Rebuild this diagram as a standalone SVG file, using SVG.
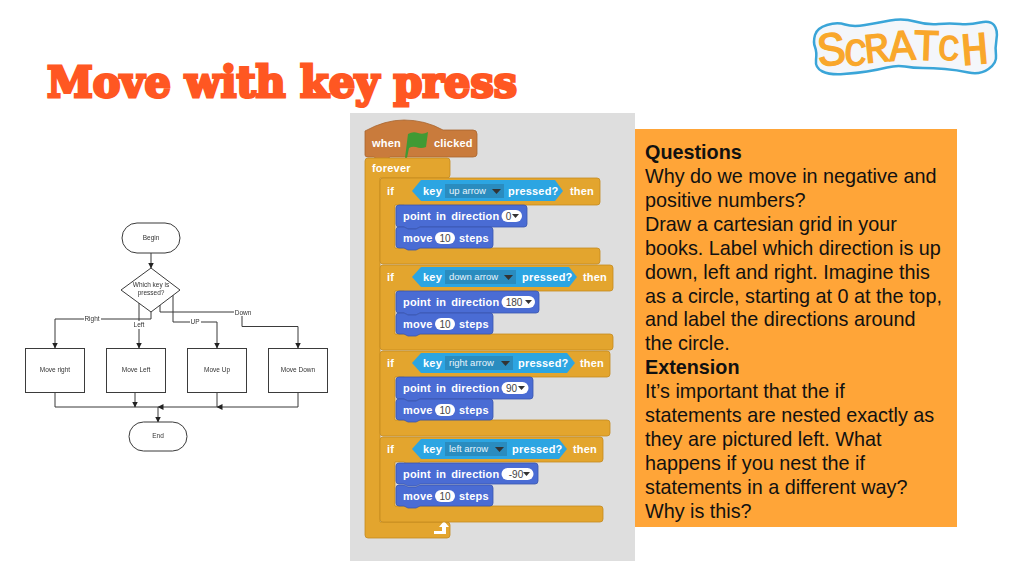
<svg xmlns="http://www.w3.org/2000/svg" width="1024" height="576" viewBox="0 0 1024 576">
<style>
text{font-family:"Liberation Sans",Arial,sans-serif}
.fn{fill:#fff;stroke:#3a3a3a;stroke-width:1}
.fl{font-size:6.5px;fill:#333;text-anchor:middle}
.cn path{fill:none;stroke:#3a3a3a;stroke-width:1}
.lb{fill:#fff}
.ctl{fill:#e3a52e;stroke:#c48a20;stroke-width:.8}
.mot{fill:#4a6cd4;stroke:#3a55ad;stroke-width:.8}
.sen{fill:#2ca5e2}
.dd{fill:#2a8cbf}
.w{font-size:11px;font-weight:700;fill:#fff;letter-spacing:.2px;word-spacing:1.8px}
.ddt{font-size:9.5px;fill:#e8f4fb}
.pill{fill:#fff}
.pt{font-size:10px;fill:#444;text-anchor:middle}
.tri{fill:#333}
.tq{font-size:19.800px;fill:#111}
.b{font-weight:700}
.lg{font-family:"Liberation Mono",monospace;font-weight:400;fill:#f9a72b;stroke:#f9a72b;stroke-width:1.300;text-anchor:middle}
</style>
<defs>
<marker id="ah" viewBox="0 0 6 6" refX="5.500" refY="3" markerWidth="6" markerHeight="6" orient="auto" markerUnits="userSpaceOnUse"><path d="M0 0L6 3L0 6Z" fill="#222"/></marker>
<filter id="soft" x="-5%" y="-5%" width="110%" height="110%"><feGaussianBlur stdDeviation=".3"/></filter>
</defs>
<rect width="1024" height="576" fill="#fff"/>
<text x="47" y="97" font-size="43" textLength="470" lengthAdjust="spacingAndGlyphs" style="font-family:'DejaVu Serif',serif;font-weight:700;fill:#ff5722;stroke:#ff5722;stroke-width:3;stroke-linejoin:miter">Move with key press</text>

<g id="logo">
<path d="M815 47Q813 42 815 35Q817 28 827 25Q837 22 845 24.500Q853 27 865 25Q877 23 890 20.500Q903 18 915 21.500Q927 25 938.500 24Q950 23 960 24Q970 25 980 22.500Q990 20 994 25Q998 30 996.500 39Q995 48 996 55.500Q997 63 988.500 69Q980 75 968.500 72.500Q957 70 945 69Q933 68 923 68Q913 68 905 66.500Q897 65 887 67.500Q877 70 867 71.500Q857 73 843.500 74Q830 75 822.500 71.500Q815 68 816 60Q817 52 815 47Z" fill="#f4f6fa" stroke="#3aa5d8" stroke-width="2.500"/>
<text class="lg" font-size="48" transform="translate(833 65) rotate(-6)">S</text>
<text class="lg" font-size="38" transform="translate(855 65) rotate(3)">C</text>
<text class="lg" font-size="42" transform="translate(878 62) rotate(-6)">R</text>
<text class="lg" font-size="44" transform="translate(903 60) rotate(-4)">A</text>
<text class="lg" font-size="44" transform="translate(926 60) rotate(2)">T</text>
<text class="lg" font-size="36" transform="translate(948 60) rotate(4)">C</text>
<text class="lg" font-size="46" transform="translate(976 64) rotate(-5)">H</text>
</g>

<g id="flowchart" filter="url(#soft)">
<g id="connectors" class="cn">
<path d="M151 253V268" marker-end="url(#ah)"/>
<path d="M151 312V319H55V348" marker-end="url(#ah)"/>
<path d="M139 303V348" marker-end="url(#ah)"/>
<path d="M173 295V322H217V348" marker-end="url(#ah)"/>
<path d="M160 305V312H242V326.500H298V348" marker-end="url(#ah)"/>
<path d="M55 392V407H158"/>
<path d="M135 392V407" marker-end="url(#ah)"/>
<path d="M217 392V407H158" marker-end="url(#ah)"/>
<path d="M298 392V407H217" marker-end="url(#ah)"/>
<path d="M158 407V422" marker-end="url(#ah)"/>
</g>
<g id="edge-labels">
<rect class="lb" x="84" y="315" width="17" height="8"/><text class="fl" x="92" y="320.500">Right</text>
<rect class="lb" x="133" y="321" width="12" height="8"/><text class="fl" x="139" y="327">Left</text>
<rect class="lb" x="190" y="318" width="11" height="8"/><text class="fl" x="195" y="323.500">UP</text>
<rect class="lb" x="234" y="308" width="18" height="8"/><text class="fl" x="243" y="314.500">Down</text>
</g>
<g id="begin"><rect class="fn" x="122" y="223" width="58" height="30" rx="15"/><text class="fl" x="151" y="240">Begin</text></g>
<g id="decision"><path class="fn" d="M151 268L180 290L151 312L121 290Z"/><text class="fl" x="151" y="287">Which key is</text><text class="fl" x="151" y="295">pressed?</text></g>
<g id="move-right"><rect class="fn" x="25.500" y="348.500" width="59" height="44"/><text class="fl" x="55" y="372">Move right</text></g>
<g id="move-left"><rect class="fn" x="106.500" y="348.500" width="59" height="44"/><text class="fl" x="136" y="372">Move Left</text></g>
<g id="move-up"><rect class="fn" x="187.500" y="348.500" width="59" height="44"/><text class="fl" x="217" y="372">Move Up</text></g>
<g id="move-down"><rect class="fn" x="268.500" y="348.500" width="59" height="44"/><text class="fl" x="298" y="372">Move Down</text></g>
<g id="end"><rect class="fn" x="129" y="422" width="58" height="29" rx="14.500"/><text class="fl" x="158" y="438">End</text></g>
</g>

<g id="scratch-script">
<rect x="350" y="113" width="285" height="448" fill="#dedede"/>
<path d="M365 155V131Q385 120 404 120Q425 120 443 130H473Q477 130 477 134V154Q477 157 473 157H390L386 160H378L374 157H368Q365 157 365 155Z" fill="#c97b3c" stroke="#a8642e" stroke-width=".8"/>
<path d="M408 134Q413 131 418 133Q423 135 428 132L426 147Q421 149 416 147Q412 146 409 148L407 158L405 158Z" fill="#3f9a34"/>
<text class="w" x="372" y="147">when</text><text class="w" x="434" y="147">clicked</text>

<path class="ctl" d="M368 158H447Q450 158 450 161V175Q450 178 447 178H380V522H447Q450 522 450 525V535Q450 538 447 538H368Q365 538 365 535V161Q365 158 368 158Z"/>
<text class="w" x="372" y="172">forever</text>
<path d="M434 534h12v-7h3l-5-6-5 6h3v4h-8Z" fill="#fff"/>

<path class="ctl" d="M383 178H597Q600 178 600 181V202Q600 205 597 205H420L416 208H408L404 205H395V248H597Q600 248 600 251V261Q600 264 597 264H383Q380 264 380 261V181Q380 178 383 178Z"/>
<path class="ctl" d="M383 265H610Q613 265 613 268V288Q613 291 610 291H420L416 294H408L404 291H395V334H610Q613 334 613 337V347Q613 350 610 350H383Q380 350 380 347V268Q380 265 383 265Z"/>
<path class="ctl" d="M383 351H607Q610 351 610 354V374Q610 377 607 377H420L416 380H408L404 377H395V420H607Q610 420 610 423V433Q610 436 607 436H383Q380 436 380 433V354Q380 351 383 351Z"/>
<path class="ctl" d="M383 437H600Q603 437 603 440V459Q603 462 600 462H420L416 465H408L404 462H395V506H600Q603 506 603 509V519Q603 522 600 522H383Q380 522 380 519V440Q380 437 383 437Z"/>

<text class="w" x="387" y="195">if</text><text class="w" x="570" y="195">then</text>
<text class="w" x="387" y="281">if</text><text class="w" x="583" y="281">then</text>
<text class="w" x="387" y="367">if</text><text class="w" x="580" y="367">then</text>
<text class="w" x="387" y="453">if</text><text class="w" x="573" y="453">then</text>

<path class="sen" d="M412 191L421 180H555L563 191L555 201H421Z"/>
<rect class="dd" x="445" y="184" width="59" height="14"/><text class="ddt" x="449" y="193.500">up arrow</text><path class="tri" d="M492 189h9l-4.500 5Z"/>
<text class="w" x="423" y="195">key</text><text class="w" x="508" y="195">pressed?</text>

<path class="sen" d="M412 277L421 267H569L577 277L569 287H421Z"/>
<rect class="dd" x="445" y="270" width="71" height="14"/><text class="ddt" x="449" y="279.500">down arrow</text><path class="tri" d="M504 275h9l-4.500 5Z"/>
<text class="w" x="423" y="281">key</text><text class="w" x="522" y="281">pressed?</text>

<path class="sen" d="M412 363L421 353H567L575 363L567 373H421Z"/>
<rect class="dd" x="445" y="356" width="68" height="14"/><text class="ddt" x="449" y="365.500">right arrow</text><path class="tri" d="M501 361h9l-4.500 5Z"/>
<text class="w" x="423" y="367">key</text><text class="w" x="518" y="367">pressed?</text>

<path class="sen" d="M412 449L421 439H559L567 449L559 459H421Z"/>
<rect class="dd" x="445" y="442" width="62" height="14"/><text class="ddt" x="449" y="451.500">left arrow</text><path class="tri" d="M495 447h9l-4.500 5Z"/>
<text class="w" x="423" y="453">key</text><text class="w" x="512" y="453">pressed?</text>

<path class="mot" d="M399 205H524Q527 205 527 208V224Q527 227 524 227H420L416 229H408L404 227H399Q396 227 396 224V208Q396 205 399 205Z"/>
<path class="mot" d="M399 227H404L408 229H416L420 227H490Q493 227 493 230V245Q493 248 490 248H420L416 250H408L404 248H399Q396 248 396 245V230Q396 227 399 227Z"/>
<path class="mot" d="M399 291H536Q539 291 539 294V310Q539 313 536 313H420L416 315H408L404 313H399Q396 313 396 310V294Q396 291 399 291Z"/>
<path class="mot" d="M399 313H404L408 315H416L420 313H490Q493 313 493 316V331Q493 334 490 334H420L416 336H408L404 334H399Q396 334 396 331V316Q396 313 399 313Z"/>
<path class="mot" d="M399 377H530Q533 377 533 380V396Q533 399 530 399H420L416 401H408L404 399H399Q396 399 396 396V380Q396 377 399 377Z"/>
<path class="mot" d="M399 399H404L408 401H416L420 399H490Q493 399 493 402V417Q493 420 490 420H420L416 422H408L404 420H399Q396 420 396 417V402Q396 399 399 399Z"/>
<path class="mot" d="M399 463H535Q538 463 538 466V481Q538 484 535 484H420L416 486H408L404 484H399Q396 484 396 481V466Q396 463 399 463Z"/>
<path class="mot" d="M399 485H404L408 487H416L420 485H490Q493 485 493 488V503Q493 506 490 506H420L416 508H408L404 506H399Q396 506 396 503V488Q396 485 399 485Z"/>

<text class="w" x="403" y="220">point in direction</text><rect class="pill" x="501.500" y="210" width="20.500" height="12" rx="6"/><text class="pt" x="508.500" y="220">0</text><path class="tri" d="M512 214h7l-3.500 4Z"/>
<text class="w" x="403" y="242">move</text><rect class="pill" x="435" y="232" width="20" height="12" rx="6"/><text class="pt" x="445" y="242">10</text><text class="w" x="459" y="242">steps</text>

<text class="w" x="403" y="306">point in direction</text><rect class="pill" x="501.500" y="296" width="33.500" height="12" rx="6"/><text class="pt" x="514" y="306">180</text><path class="tri" d="M525 300h7l-3.500 4Z"/>
<text class="w" x="403" y="328">move</text><rect class="pill" x="435" y="318" width="20" height="12" rx="6"/><text class="pt" x="445" y="328">10</text><text class="w" x="459" y="328">steps</text>

<text class="w" x="403" y="392">point in direction</text><rect class="pill" x="501.500" y="382" width="27" height="12" rx="6"/><text class="pt" x="511.500" y="392">90</text><path class="tri" d="M518 386h7l-3.500 4Z"/>
<text class="w" x="403" y="414">move</text><rect class="pill" x="435" y="404" width="20" height="12" rx="6"/><text class="pt" x="445" y="414">10</text><text class="w" x="459" y="414">steps</text>

<text class="w" x="403" y="478">point in direction</text><rect class="pill" x="501.500" y="468" width="32" height="12" rx="6"/><text class="pt" x="516" y="478">-90</text><path class="tri" d="M523 472h7l-3.500 4Z"/>
<text class="w" x="403" y="500">move</text><rect class="pill" x="435" y="490" width="20" height="12" rx="6"/><text class="pt" x="445" y="500">10</text><text class="w" x="459" y="500">steps</text>
</g>

<g id="questions">
<rect x="635" y="129" width="322" height="398" fill="#ffa538"/>
<text class="tq b" x="645" y="159">Questions</text>
<text class="tq" x="645" y="183">Why do we move in negative and</text>
<text class="tq" x="645" y="207">positive numbers?</text>
<text class="tq" x="645" y="231">Draw a cartesian grid in your</text>
<text class="tq" x="645" y="255">books. Label which direction is up</text>
<text class="tq" x="645" y="279">down, left and right. Imagine this</text>
<text class="tq" x="645" y="303">as a circle, starting at 0 at the top,</text>
<text class="tq" x="645" y="326">and label the directions around</text>
<text class="tq" x="645" y="350">the circle.</text>
<text class="tq b" x="645" y="374">Extension</text>
<text class="tq" x="645" y="398">It’s important that the if</text>
<text class="tq" x="645" y="422">statements are nested exactly as</text>
<text class="tq" x="645" y="446">they are pictured left. What</text>
<text class="tq" x="645" y="470">happens if you nest the if</text>
<text class="tq" x="645" y="494">statements in a different way?</text>
<text class="tq" x="645" y="518">Why is this?</text>
</g>
</svg>
